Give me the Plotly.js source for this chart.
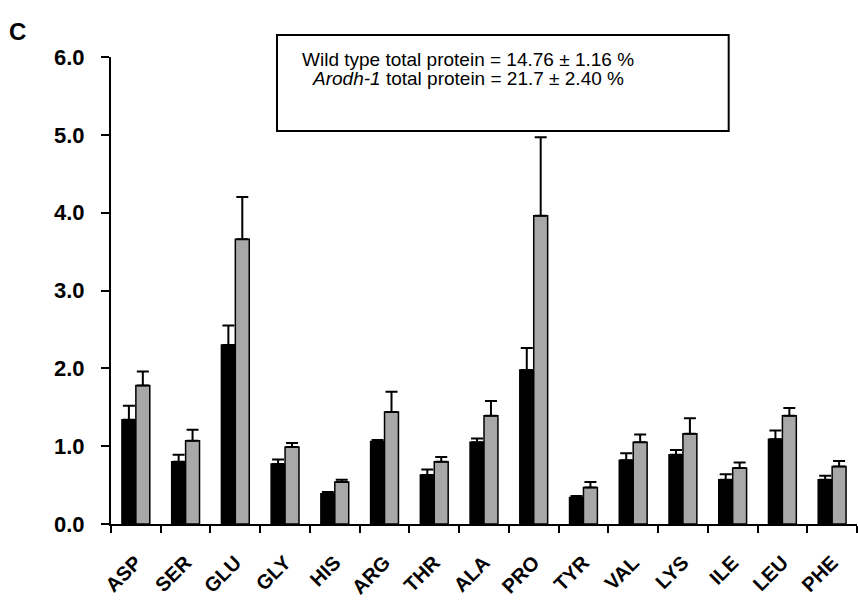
<!DOCTYPE html>
<html>
<head>
<meta charset="utf-8">
<script src="https://cdn.plot.ly/plotly-3.0.1.min.js"></script>
<style>html,body{margin:0;padding:0;background:#fff;}#chart{width:858px;height:601px;}</style>
</head>
<body>
<div id="chart"></div>
<script>
const categories = ['ASP','SER','GLU','GLY','HIS','ARG','THR','ALA','PRO','TYR','VAL','LYS','ILE','LEU','PHE'];
const wildType = [1.34,0.80,2.30,0.77,0.39,1.06,0.63,1.05,1.98,0.34,0.82,0.89,0.57,1.09,0.57];
const wildTypeErr = [0.18,0.09,0.25,0.06,0.02,0.02,0.07,0.05,0.28,0.02,0.09,0.06,0.07,0.11,0.05];
const arodh1 = [1.78,1.07,3.66,0.99,0.54,1.44,0.80,1.39,3.96,0.47,1.05,1.16,0.72,1.39,0.74];
const arodh1Err = [0.18,0.14,0.54,0.05,0.03,0.26,0.06,0.19,1.01,0.07,0.10,0.20,0.07,0.10,0.07];
const yTicks = [0,1,2,3,4,5,6];

const font = 'Liberation Sans, Arial, sans-serif';
const zeros = categories.map(() => 0);

const traces = [
  {
    type: 'bar', name: 'Wild type', x: categories, y: wildType,
    marker: {color: '#000000', line: {color: '#000000', width: 1.5}},
    error_y: {type: 'data', array: wildTypeErr, arrayminus: zeros, symmetric: false, color: '#000000', thickness: 2, width: 6}
  },
  {
    type: 'bar', name: 'Arodh-1', x: categories, y: arodh1,
    marker: {color: '#a8a8a8', line: {color: '#000000', width: 1.5}},
    error_y: {type: 'data', array: arodh1Err, arrayminus: zeros, symmetric: false, color: '#000000', thickness: 2, width: 6}
  }
];

const layout = {
  width: 858, height: 601,
  margin: {l: 111, r: 1, t: 57, b: 77},
  paper_bgcolor: '#ffffff', plot_bgcolor: '#ffffff',
  showlegend: false,
  barmode: 'group', bargap: 0.44, bargroupgap: 0,
  font: {family: font, color: '#000000'},
  xaxis: {
    type: 'category', range: [-0.5, 14.5],
    showline: true, linecolor: '#000000', linewidth: 2,
    ticks: 'outside', tickson: 'boundaries', ticklen: 7, tickwidth: 2, tickcolor: '#000000',
    tickangle: -45, ticklabelstandoff: 17,
    tickfont: {family: font, size: 20, color: '#000000', weight: 'bold'},
    showgrid: false, zeroline: false, fixedrange: true
  },
  yaxis: {
    range: [0, 6], tickvals: yTicks, tickformat: '.1f',
    showline: true, linecolor: '#000000', linewidth: 2,
    ticks: 'outside', ticklen: 8, tickwidth: 2, tickcolor: '#000000',
    ticklabelstandoff: 12,
    tickfont: {family: font, size: 22, color: '#000000', weight: 'bold'},
    showgrid: false, zeroline: false, fixedrange: true
  },
  shapes: [
    {type: 'rect', xref: 'paper', yref: 'paper', x0: 0.2225, x1: 0.828, y0: 0.8415, y1: 1.047,
     line: {color: '#000000', width: 2}, fillcolor: '#ffffff', layer: 'above'}
  ],
  annotations: [
    {xref: 'paper', yref: 'paper', x: 0.479, y: 0.9936, xanchor: 'center', yanchor: 'middle', showarrow: false,
     text: 'Wild type total protein = 14.76 ± 1.16 %',
     font: {family: font, size: 19, color: '#000000'}},
    {xref: 'paper', yref: 'paper', x: 0.479, y: 0.9529, xanchor: 'center', yanchor: 'middle', showarrow: false,
     text: '<i>Arodh-1</i> total protein = 21.7 ± 2.40 %',
     font: {family: font, size: 19, color: '#000000'}},
    {xref: 'paper', yref: 'paper', x: -0.14, y: 1.055, xanchor: 'left', yanchor: 'middle', showarrow: false,
     text: '<b>C</b>', font: {family: font, size: 24, color: '#000000'}}
  ]
};

Plotly.newPlot('chart', traces, layout, {displayModeBar: false, staticPlot: true});
</script>
</body>
</html>
